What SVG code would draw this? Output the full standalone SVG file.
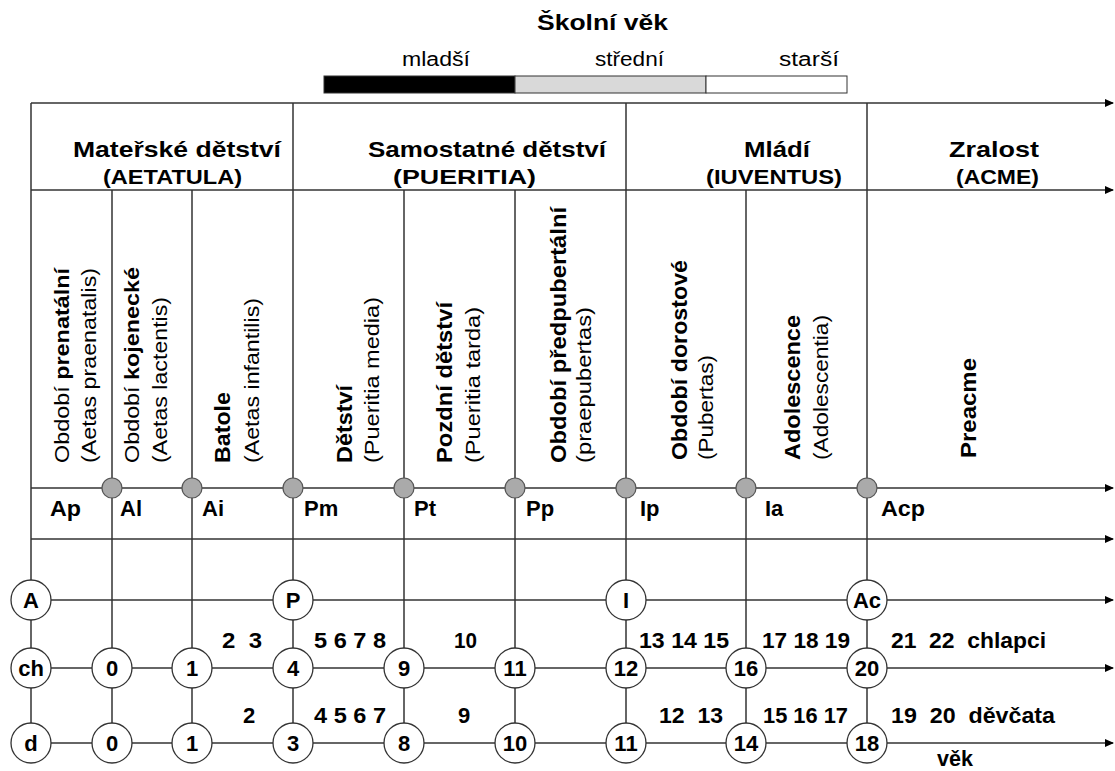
<svg xmlns="http://www.w3.org/2000/svg" width="1115" height="771" viewBox="0 0 1115 771">
<style>
.ln{stroke:#333;stroke-width:1.5;fill:none}
.t{font-family:"Liberation Sans",Arial,sans-serif;fill:#000}
.b{font-weight:bold}
.h1{font-size:22px;font-weight:bold}
.h2{font-size:21px;font-weight:bold}
.sub{font-size:20px}
.vb{font-size:22px;font-weight:bold}
.vn{font-size:21px}
.lab{font-size:22px;font-weight:bold}
.num{font-size:22px;font-weight:bold}
.gc{fill:#aaa;stroke:#555;stroke-width:1.2}
.wc{fill:#fff;stroke:#333;stroke-width:1.3}
.cn{font-family:"Liberation Sans",Arial,sans-serif;font-size:22px;font-weight:bold;text-anchor:middle}
</style>
<defs>
<marker id="ar" markerWidth="10" markerHeight="10" refX="8" refY="5" orient="auto" markerUnits="userSpaceOnUse">
<path d="M0,1 L9,5 L0,9 z" fill="#000"/>
</marker>
</defs>
<rect width="1115" height="771" fill="#fff"/>

<g id="school-age">
<text class="t h1" x="537" y="30" textLength="131" lengthAdjust="spacingAndGlyphs">Školní věk</text>
<text class="t sub" x="402" y="66" textLength="68" lengthAdjust="spacingAndGlyphs">mladší</text>
<text class="t sub" x="595" y="66" textLength="69" lengthAdjust="spacingAndGlyphs">střední</text>
<text class="t sub" x="779" y="66" textLength="60" lengthAdjust="spacingAndGlyphs">starší</text>
<rect x="324" y="76" width="191" height="17" fill="#000" stroke="#333" stroke-width="1"/>
<rect x="515" y="76" width="191" height="17" fill="#d9d9d9" stroke="#333" stroke-width="1"/>
<rect x="706" y="76" width="141" height="17" fill="#fff" stroke="#333" stroke-width="1"/>
</g>

<g id="connectors">
<line class="ln" x1="31" y1="103" x2="1113" y2="103" marker-end="url(#ar)"/>
<line class="ln" x1="31" y1="190" x2="1113" y2="190" marker-end="url(#ar)"/>
<line class="ln" x1="31" y1="488" x2="1113" y2="488" marker-end="url(#ar)"/>
<line class="ln" x1="31" y1="539" x2="1113" y2="539" marker-end="url(#ar)"/>
<line class="ln" x1="31" y1="600" x2="1113" y2="600" marker-end="url(#ar)"/>
<line class="ln" x1="31" y1="668" x2="1113" y2="668" marker-end="url(#ar)"/>
<line class="ln" x1="31" y1="743" x2="1113" y2="743" marker-end="url(#ar)"/>
<line class="ln" x1="31" y1="103" x2="31" y2="743"/>
<line class="ln" x1="293" y1="103" x2="293" y2="743"/>
<line class="ln" x1="626" y1="103" x2="626" y2="743"/>
<line class="ln" x1="867" y1="103" x2="867" y2="743"/>
<line class="ln" x1="112" y1="190" x2="112" y2="743"/>
<line class="ln" x1="192" y1="190" x2="192" y2="743"/>
<line class="ln" x1="404" y1="190" x2="404" y2="743"/>
<line class="ln" x1="515" y1="190" x2="515" y2="743"/>
<line class="ln" x1="746" y1="190" x2="746" y2="743"/>
</g>

<g id="stage-headers">
<g id="aetatula">
<text class="t h1" x="73" y="157" textLength="208" lengthAdjust="spacingAndGlyphs">Mateřské dětství</text>
<text class="t h2" x="103" y="184" textLength="139" lengthAdjust="spacingAndGlyphs">(AETATULA)</text>
</g>
<g id="pueritia">
<text class="t h1" x="368" y="157" textLength="238" lengthAdjust="spacingAndGlyphs">Samostatné dětství</text>
<text class="t h2" x="393" y="184" textLength="143" lengthAdjust="spacingAndGlyphs">(PUERITIA)</text>
</g>
<g id="iuventus">
<text class="t h1" x="744" y="157" textLength="66" lengthAdjust="spacingAndGlyphs">Mládí</text>
<text class="t h2" x="706" y="184" textLength="136" lengthAdjust="spacingAndGlyphs">(IUVENTUS)</text>
</g>
<g id="acme">
<text class="t h1" x="949" y="157" textLength="90" lengthAdjust="spacingAndGlyphs">Zralost</text>
<text class="t h2" x="956" y="184" textLength="83" lengthAdjust="spacingAndGlyphs">(ACME)</text>
</g>
</g>

<g id="periods">
<g id="p-ap">
<text class="t vn" transform="translate(69,463) rotate(-90)" textLength="195" lengthAdjust="spacingAndGlyphs">Období <tspan class="b">prenatální</tspan></text>
<text class="t vn" transform="translate(96,463) rotate(-90)" textLength="195" lengthAdjust="spacingAndGlyphs">(Aetas praenatalis)</text>
</g>
<g id="p-al">
<text class="t vn" transform="translate(139,463) rotate(-90)" textLength="196" lengthAdjust="spacingAndGlyphs">Období <tspan class="b">kojenecké</tspan></text>
<text class="t vn" transform="translate(167,463) rotate(-90)" textLength="166" lengthAdjust="spacingAndGlyphs">(Aetas lactentis)</text>
</g>
<g id="p-ai">
<text class="t vb" transform="translate(230,463) rotate(-90)" textLength="71" lengthAdjust="spacingAndGlyphs">Batole</text>
<text class="t vn" transform="translate(259,463) rotate(-90)" textLength="165" lengthAdjust="spacingAndGlyphs">(Aetas infantilis)</text>
</g>
<g id="p-pm">
<text class="t vb" transform="translate(352,463) rotate(-90)" textLength="78" lengthAdjust="spacingAndGlyphs">Dětství</text>
<text class="t vn" transform="translate(379,463) rotate(-90)" textLength="166" lengthAdjust="spacingAndGlyphs">(Pueritia  media)</text>
</g>
<g id="p-pt">
<text class="t vb" transform="translate(452,463) rotate(-90)" textLength="161" lengthAdjust="spacingAndGlyphs">Pozdní dětství</text>
<text class="t vn" transform="translate(480,463) rotate(-90)" textLength="156" lengthAdjust="spacingAndGlyphs">(Pueritia tarda)</text>
</g>
<g id="p-pp">
<text class="t vb" transform="translate(566,463) rotate(-90)" textLength="256" lengthAdjust="spacingAndGlyphs">Období předpubertální</text>
<text class="t vn" transform="translate(591,463) rotate(-90)" textLength="156" lengthAdjust="spacingAndGlyphs">(praepubertas)</text>
</g>
<g id="p-ip">
<text class="t vb" transform="translate(687,460) rotate(-90)" textLength="200" lengthAdjust="spacingAndGlyphs">Období dorostové</text>
<text class="t vn" transform="translate(713,460) rotate(-90)" textLength="105" lengthAdjust="spacingAndGlyphs">(Pubertas)</text>
</g>
<g id="p-ia">
<text class="t vb" transform="translate(800,460) rotate(-90)" textLength="145" lengthAdjust="spacingAndGlyphs">Adolescence</text>
<text class="t vn" transform="translate(828,460) rotate(-90)" textLength="145" lengthAdjust="spacingAndGlyphs">(Adolescentia)</text>
</g>
<g id="p-acp">
<text class="t vb" transform="translate(976,458) rotate(-90)" textLength="100" lengthAdjust="spacingAndGlyphs">Preacme</text>
</g>
</g>

<g id="boundary-markers">
<circle class="gc" cx="112" cy="488" r="10"/>
<circle class="gc" cx="192" cy="488" r="10"/>
<circle class="gc" cx="293" cy="488" r="10"/>
<circle class="gc" cx="404" cy="488" r="10"/>
<circle class="gc" cx="515" cy="488" r="10"/>
<circle class="gc" cx="626" cy="488" r="10"/>
<circle class="gc" cx="746" cy="488" r="10"/>
<circle class="gc" cx="867" cy="488" r="10"/>
</g>

<g id="codes">
<text class="t lab" x="50" y="516" textLength="31" lengthAdjust="spacingAndGlyphs">Ap</text>
<text class="t lab" x="120" y="516">Al</text>
<text class="t lab" x="202" y="516">Ai</text>
<text class="t lab" x="304" y="516">Pm</text>
<text class="t lab" x="414" y="516">Pt</text>
<text class="t lab" x="526" y="516">Pp</text>
<text class="t lab" x="640" y="516">Ip</text>
<text class="t lab" x="765" y="516">Ia</text>
<text class="t lab" x="881" y="516" textLength="44" lengthAdjust="spacingAndGlyphs">Acp</text>
</g>

<g id="row-stage">
<g id="n-A"><circle class="wc" cx="31" cy="600" r="20"/><text class="cn" x="31" y="608">A</text></g>
<g id="n-P"><circle class="wc" cx="293" cy="600" r="20"/><text class="cn" x="293" y="608">P</text></g>
<g id="n-I"><circle class="wc" cx="626" cy="600" r="20"/><text class="cn" x="626" y="608">I</text></g>
<g id="n-Ac"><circle class="wc" cx="867" cy="600" r="20"/><text class="cn" x="867" y="608">Ac</text></g>
</g>

<g id="row-boys">
<g id="n-ch"><circle class="wc" cx="31" cy="668" r="20"/><text class="cn" x="31" y="676">ch</text></g>
<g id="n-ch0"><circle class="wc" cx="112" cy="668" r="20"/><text class="cn" x="112" y="676">0</text></g>
<g id="n-ch1"><circle class="wc" cx="192" cy="668" r="20"/><text class="cn" x="192" y="676">1</text></g>
<g id="n-ch4"><circle class="wc" cx="293" cy="668" r="20"/><text class="cn" x="293" y="676">4</text></g>
<g id="n-ch9"><circle class="wc" cx="404" cy="668" r="20"/><text class="cn" x="404" y="676">9</text></g>
<g id="n-ch11"><circle class="wc" cx="515" cy="668" r="20"/><text class="cn" x="515" y="676">11</text></g>
<g id="n-ch12"><circle class="wc" cx="626" cy="668" r="20"/><text class="cn" x="626" y="676">12</text></g>
<g id="n-ch16"><circle class="wc" cx="746" cy="668" r="20"/><text class="cn" x="746" y="676">16</text></g>
<g id="n-ch20"><circle class="wc" cx="867" cy="668" r="20"/><text class="cn" x="867" y="676">20</text></g>
</g>

<g id="row-girls">
<g id="n-d"><circle class="wc" cx="31" cy="743" r="20"/><text class="cn" x="31" y="751">d</text></g>
<g id="n-d0"><circle class="wc" cx="112" cy="743" r="20"/><text class="cn" x="112" y="751">0</text></g>
<g id="n-d1"><circle class="wc" cx="192" cy="743" r="20"/><text class="cn" x="192" y="751">1</text></g>
<g id="n-d3"><circle class="wc" cx="293" cy="743" r="20"/><text class="cn" x="293" y="751">3</text></g>
<g id="n-d8"><circle class="wc" cx="404" cy="743" r="20"/><text class="cn" x="404" y="751">8</text></g>
<g id="n-d10"><circle class="wc" cx="515" cy="743" r="20"/><text class="cn" x="515" y="751">10</text></g>
<g id="n-d11"><circle class="wc" cx="626" cy="743" r="20"/><text class="cn" x="626" y="751">11</text></g>
<g id="n-d14"><circle class="wc" cx="746" cy="743" r="20"/><text class="cn" x="746" y="751">14</text></g>
<g id="n-d18"><circle class="wc" cx="867" cy="743" r="20"/><text class="cn" x="867" y="751">18</text></g>
</g>

<g id="age-labels">
<text class="t num" x="222" y="648" xml:space="preserve" textLength="40" lengthAdjust="spacingAndGlyphs">2  3</text>
<text class="t num" x="314" y="648" textLength="72" lengthAdjust="spacingAndGlyphs">5 6 7 8</text>
<text class="t num" x="454" y="648" textLength="23" lengthAdjust="spacingAndGlyphs">10</text>
<text class="t num" x="639" y="648" textLength="90" lengthAdjust="spacingAndGlyphs">13 14 15</text>
<text class="t num" x="762" y="648" textLength="88" lengthAdjust="spacingAndGlyphs">17 18 19</text>
<text class="t num" x="891" y="648" xml:space="preserve" textLength="155" lengthAdjust="spacingAndGlyphs">21  22  chlapci</text>
<text class="t num" x="243" y="723">2</text>
<text class="t num" x="314" y="723" textLength="72" lengthAdjust="spacingAndGlyphs">4 5 6 7</text>
<text class="t num" x="458" y="723">9</text>
<text class="t num" x="659" y="723" xml:space="preserve" textLength="64" lengthAdjust="spacingAndGlyphs">12  13</text>
<text class="t num" x="763" y="723" textLength="85" lengthAdjust="spacingAndGlyphs">15 16 17</text>
<text class="t num" x="891" y="723" xml:space="preserve" textLength="164" lengthAdjust="spacingAndGlyphs">19  20  děvčata</text>
<text class="t num" x="937" y="766" textLength="36" lengthAdjust="spacingAndGlyphs">věk</text>
</g>
</svg>
